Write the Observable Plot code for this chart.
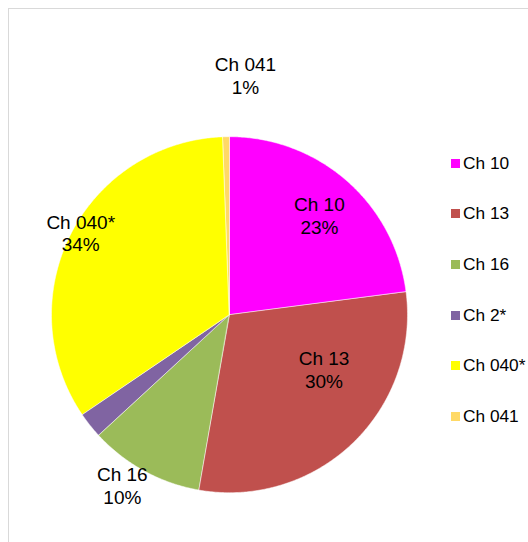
<!DOCTYPE html>
<html>
<head>
<meta charset="utf-8">
<script src="https://cdn.jsdelivr.net/npm/d3@7"></script>
<script src="https://cdn.jsdelivr.net/npm/@observablehq/plot@0.6"></script>
<style>
  html, body { margin: 0; padding: 0; background: #fff; }
  #wrap { position: relative; width: 528px; height: 542px; overflow: hidden; font-family: "Liberation Sans", Arial, sans-serif; }
  #frame { position: absolute; left: 8px; top: 8px; width: 600px; height: 600px; border-top: 1px solid #d9d9d9; border-left: 1px solid #d9d9d9; box-sizing: border-box; }
  #chart { position: absolute; left: 0; top: 0; }
  #legend { position: absolute; left: 451px; top: 138px; }
  .item { height: 50.67px; display: flex; align-items: center; font-size: 17.3px; color: #000; }
  .sw { width: 9px; height: 9px; margin-right: 3px; flex: none; }
</style>
</head>
<body>
<div id="wrap">
  <div id="frame"></div>
  <div id="chart"></div>
  <div id="legend"></div>
</div>
<script>
// ---- data ----
const categories = ["Ch 10", "Ch 13", "Ch 16", "Ch 2*", "Ch 040*", "Ch 041"];
const values = [22.96, 29.83, 10.39, 2.36, 33.87, 0.59];
const colors = ["#FF00FF", "#C0504D", "#9BBB59", "#8064A2", "#FFFF00", "#FFD966"];
const showLabel = [true, true, true, false, true, true];

// ---- layout (label placement in polar terms: radius fraction, angle in degrees clockwise from top) ----
const labelRadius = [0.752, 0.608, 1.132, 0, 0.958, 1.350];
const labelAngle = [41.9, 119.7, 212.3, 0, 298.9, 3.7];
const cx = 229.5, cy = 314.7, R = 178;

const total = d3.sum(values);
const arcs = d3.pie().sort(null).value(d => d.value)(categories.map((name, i) => ({name, value: values[i]})));

const arcPts = arcs.flatMap(a => {
  const n = Math.max(2, Math.ceil((a.endAngle - a.startAngle) / (Math.PI / 360)));
  return d3.range(n + 1).map(k => {
    const t = a.startAngle + (a.endAngle - a.startAngle) * k / n;
    return {name: a.data.name, x: Math.sin(t), y: Math.cos(t)};
  });
});

const labels = categories.map((name, i) => {
  const t = labelAngle[i] * Math.PI / 180;
  return {
    name,
    show: showLabel[i],
    x: labelRadius[i] * Math.sin(t),
    y: labelRadius[i] * Math.cos(t),
    text: name + "\n" + Math.round(values[i] / total * 100) + "%"
  };
}).filter(d => d.show);

const plot = Plot.plot({
  width: 528,
  height: 542,
  margin: 0,
  x: {axis: null, domain: [-1, 1], range: [cx - R, cx + R]},
  y: {axis: null, domain: [-1, 1], range: [cy + R, cy - R]},
  color: {domain: categories, range: colors},
  style: {background: "transparent", fontFamily: "'Liberation Sans', Arial, sans-serif", color: "#000", overflow: "visible"},
  marks: [
    Plot.area(arcPts, {x1: d => 0, y1: d => 0, x2: "x", y2: "y", z: "name", fill: "name", stroke: "white", strokeWidth: 0.5}),
    Plot.text(labels, {x: "x", y: "y", text: "text", fontSize: 19, lineHeight: 1.2, fill: "#000"})
  ]
});
document.getElementById("chart").appendChild(plot);

// legend
const legend = d3.select("#legend");
categories.forEach((name, i) => {
  const row = legend.append("div").attr("class", "item");
  row.append("div").attr("class", "sw").style("background", colors[i]);
  row.append("span").text(name);
});
</script>
</body>
</html>
